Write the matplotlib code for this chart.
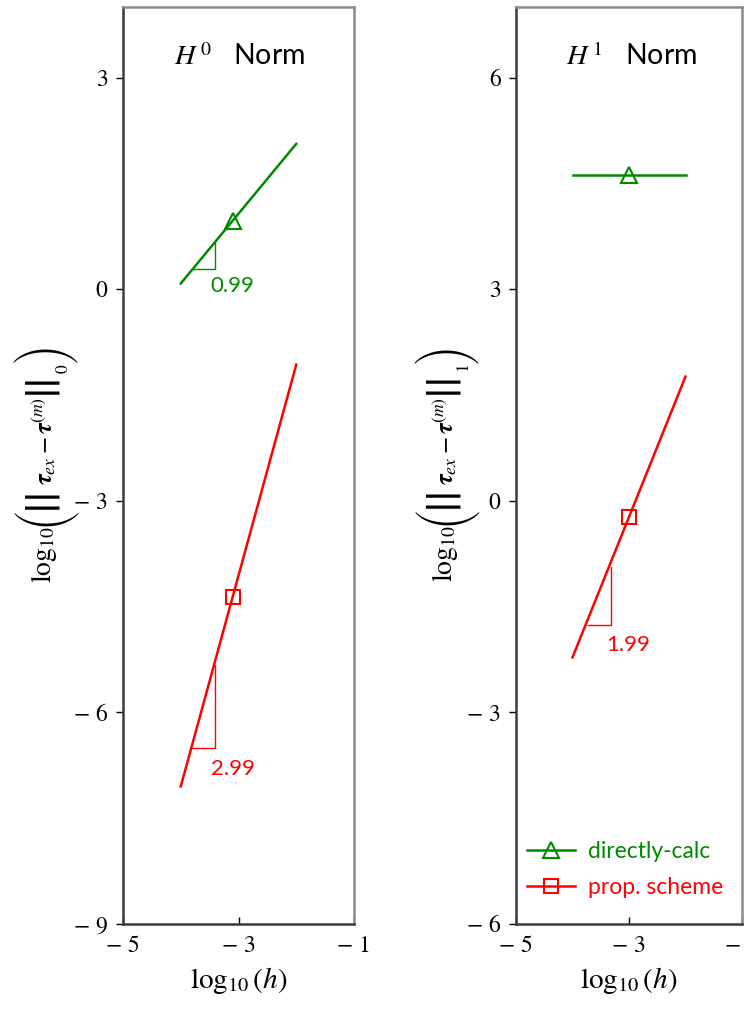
import numpy as np
import matplotlib.pyplot as plt
from matplotlib.ticker import FuncFormatter

plt.rcParams['mathtext.fontset'] = 'stix'
plt.rcParams['font.family'] = ['Lato', 'DejaVu Sans']

# log10(h) sample points (middle one carries the marker)
log_h = [-4.0, -3.1, -2.0]
log_h1 = [-4.0, -3.0, -2.0]

# H0 norm errors
h0_direct = [0.08, 0.971, 2.06]
h0_prop = [-7.05, -4.36, -1.07]

# H1 norm errors
h1_direct = [4.62, 4.62, 4.62]
h1_prop = [-2.22, -0.23, 1.76]

slopes_h0 = ["0.99", "2.99"]
slopes_h1 = ["1.99"]

green = "#008a00"
red = "#ff0000"

W, H = 747, 1009
fig = plt.figure(figsize=(W/100, H/100), dpi=100)
ax1 = fig.add_axes([123/W, 1-924/H, 231/W, 917/H])
ax2 = fig.add_axes([516/W, 1-924/H, 226/W, 917/H])

fmt = FuncFormatter(lambda v, p: ("\u2212 %d" % abs(v)) if v < 0 else "%d" % v)

def style(ax, ylim, yticks):
    ax.set_xlim(-5, -1)
    ax.set_ylim(*ylim)
    ax.set_xticks([-5, -3, -1])
    ax.set_yticks(yticks)
    ax.xaxis.set_major_formatter(fmt)
    ax.yaxis.set_major_formatter(fmt)
    ax.tick_params(axis='x', direction='in', length=5, width=1, pad=8)
    ax.tick_params(axis='y', direction='out', length=5, width=1, pad=6)
    for lab in ax.get_xticklabels() + ax.get_yticklabels():
        lab.set_family('STIXGeneral')
        lab.set_fontsize(17)
    for s in ['left', 'bottom']:
        ax.spines[s].set_color('#3a3a3a')
        ax.spines[s].set_linewidth(1.8)
    for s in ['top', 'right']:
        ax.spines[s].set_color('#8a8a8a')
        ax.spines[s].set_linewidth(1.8)
    ax.set_xlabel(r'$\log_{10}(h)$', fontsize=21, labelpad=6)

def slope_tri(ax, x0, x1, y0, y1, txt, color, tx, ty):
    ax.plot([x0, x1, x1], [y0, y0, y1], color=color, lw=1)
    ax.text(tx, ty, txt, color=color, fontsize=16, ha='left', va='center')

renderer = fig.canvas.get_renderer()

def sized(t, target):
    # scale a glyph so its rotated extent spans `target` pixels across
    w = t.get_window_extent(renderer).width
    t.set_fontsize(t.get_fontsize() * target / w)

def ylabel_stack(cx, cy, k):
    # rotated y label assembled bottom-to-top from separate pieces
    pieces = []
    def add(s, size, family=('STIXGeneral',), target=None, gap=0, dx=0):
        t = fig.text(0, 0, s, fontsize=size, family=list(family), rotation=90,
                     ha='center', va='bottom')
        if target:
            sized(t, target)
        pieces.append((t, gap, dx))
    big = ('STIXSizeFourSym', 'STIXGeneral')
    bar = ('STIXSizeFourSym', 'STIXGeneral')
    add(r'$\log_{10}$', 20, dx=-1)
    add('(', 20, big, target=66, gap=0)
    add('|', 20, bar, target=44, gap=0)
    add('|', 20, bar, target=44, gap=1)
    add(r'$\boldsymbol{\tau}_{ex}-\boldsymbol{\tau}^{(m)}$', 18, gap=3, dx=-1)
    add('|', 20, bar, target=44, gap=3)
    add('|', 20, bar, target=44, gap=1)
    add(r'$_{%d}$' % k, 18, gap=0, dx=15)
    add(')', 20, big, target=66, gap=1)
    hs = [t.get_window_extent(renderer).height for t, g, d in pieces]
    total = sum(hs) + sum(g for t, g, d in pieces)
    y = cy - total / 2
    for (t, g, d), h in zip(pieces, hs):
        y += g
        t.set_position(((cx + d) / W, y / H))
        y += h

# ---- H0 panel
style(ax1, (-9, 4), [3, 0, -3, -6, -9])
ax1.plot(log_h, h0_direct, color=green, lw=1.8, marker='^', markevery=[1],
         ms=11, mfc='none', mew=1.5)
ax1.plot(log_h, h0_prop, color=red, lw=1.8, marker='s', markevery=[1],
         ms=10, mfc='none', mew=1.5)
slope_tri(ax1, -3.79, -3.41, 0.284, 0.667, slopes_h0[0], green, -3.48, 0.05)
slope_tri(ax1, -3.80, -3.41, -6.51, -5.33, slopes_h0[1], red, -3.48, -6.80)
ax1.text(-2.98, 3.18, r'$H^{\,0}$   Norm', fontsize=20.5, ha='center', va='baseline')
ylabel_stack(45, H - 464, 0)

# ---- H1 panel
style(ax2, (-6, 7), [6, 3, 0, -3, -6])
ax2.plot(log_h1, h1_direct, color=green, lw=1.8, marker='^', markevery=[1],
         ms=11, mfc='none', mew=1.5, label='directly-calc')
ax2.plot(log_h1, h1_prop, color=red, lw=1.8, marker='s', markevery=[1],
         ms=10, mfc='none', mew=1.5, label='prop. scheme')
slope_tri(ax2, -3.73, -3.32, -1.76, -0.94, slopes_h1[0], red, -3.40, -2.05)
ax2.text(-2.96, 6.18, r'$H^{\,1}$   Norm', fontsize=20.5, ha='center', va='baseline')
ylabel_stack(446, H - 464, 1)

leg = ax2.legend(loc='center left', bbox_to_anchor=(0.05, 0.0594), frameon=False,
                 fontsize=16.5, handlelength=2.1, handletextpad=0.55,
                 labelspacing=0.65, borderaxespad=0, borderpad=0)
for t, c in zip(leg.get_texts(), [green, red]):
    t.set_color(c)

fig.savefig('out.png', dpi=100)
